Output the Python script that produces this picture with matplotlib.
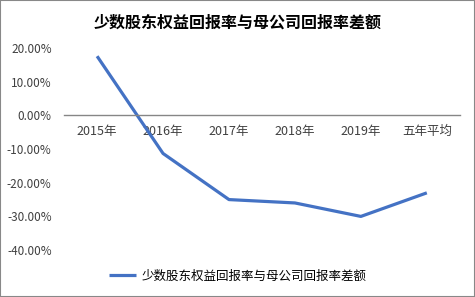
import matplotlib
matplotlib.use("Agg")
import matplotlib.pyplot as plt
from matplotlib.patches import Rectangle
from matplotlib.ticker import FuncFormatter

plt.rcParams['font.family'] = ['Noto Sans CJK SC', 'DejaVu Sans']

categories = ["2015年", "2016年", "2017年", "2018年", "2019年", "五年平均"]
diff = [17.6, -11.3, -25.0, -26.0, -30.0, -23.0]  # percent
series_name = "少数股东权益回报率与母公司回报率差额"
title = "少数股东权益回报率与母公司回报率差额"

fig = plt.figure(figsize=(4.75, 2.97), dpi=100)
ax = fig.add_axes([0.135, 0.158, 0.833, 0.68])

x = list(range(len(categories)))
line, = ax.plot(x, diff, color="#4472C4", lw=2.3, solid_capstyle="butt")

ax.set_xlim(-0.5, len(categories) - 0.5)
ax.set_ylim(-40, 20)
ax.set_yticks(range(-40, 21, 10))
ax.yaxis.set_major_formatter(FuncFormatter(lambda v, p: f"{v:.2f}%"))
ax.set_xticks(x)
ax.set_xticklabels(categories)

for s in ["top", "right", "left"]:
    ax.spines[s].set_visible(False)
ax.spines["bottom"].set_position(("data", 0))
ax.spines["bottom"].set_color("#868686")
ax.spines["bottom"].set_linewidth(1)
ax.tick_params(axis="both", length=0, colors="#404040")
ax.tick_params(axis="x", pad=7, labelsize=9)
ax.tick_params(axis="y", pad=9, labelsize=8.5)

fig.text(0.5, 0.925, title, ha="center", va="center", fontsize=11.5,
         fontweight="bold", color="#000000")

fig.legend([line], [series_name], loc="center", bbox_to_anchor=(0.5, 0.07),
           frameon=False, fontsize=9, handlelength=2.2, handletextpad=0.4)

fig.patches.append(Rectangle((0, 0), 1, 1, transform=fig.transFigure,
                             fill=False, edgecolor="#888888", lw=1.5))

fig.savefig("out.png", dpi=100)
